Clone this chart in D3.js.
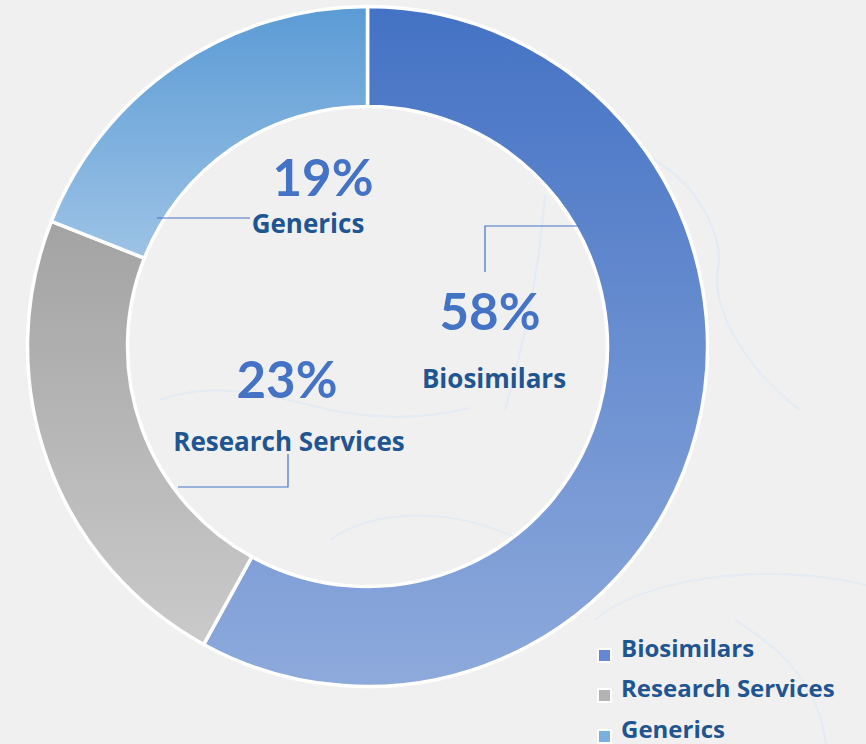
<!DOCTYPE html>
<html>
<head>
<meta charset="utf-8">
<script src="https://cdn.jsdelivr.net/npm/d3@7"></script>
<style>
html,body{margin:0;padding:0;background:#f0f0f0;}
svg{display:block;}
</style>
</head>
<body>
<svg id="chart" width="866" height="744"></svg>
<script>
const categories = ["Biosimilars", "Research Services", "Generics"];
const values = [58, 23, 19];
const percentLabels = ["58%", "23%", "19%"];
const gradTop = ["#4472c4", "#a3a3a3", "#5b9bd5"];
const gradBottom = ["#8eaadc", "#cacaca", "#9dc3e6"];
const legendColors = ["#6688d4", "#b3b3b3", "#7bafe0"];

const W = 866, H = 744;
const cx = 367.5, cy = 346.5, rOuter = 340, rInner = 240;
const svg = d3.select("#chart");

// background
svg.append("rect").attr("width", W).attr("height", H).attr("fill", "#f0f0f0");
const deco = svg.append("g").attr("fill", "none").attr("stroke", "#e4ebf3").attr("stroke-width", 2);
deco.append("path").attr("d", "M640,152 C700,180 725,240 718,270 C712,300 735,360 800,410");
deco.append("path").attr("d", "M545,195 C540,260 528,330 505,410");
deco.append("path").attr("d", "M160,400 C210,380 270,395 330,410 C370,418 420,420 470,408");
deco.append("path").attr("d", "M595,620 C640,580 760,560 866,585");
deco.append("path").attr("d", "M735,620 C800,660 820,700 826,744");
deco.append("path").attr("d", "M330,540 C380,505 460,510 520,540");

const defs = svg.append("defs");
categories.forEach((c, i) => {
  const g = defs.append("linearGradient").attr("id", "g" + i)
    .attr("x1", 0).attr("y1", 0).attr("x2", 0).attr("y2", 1);
  g.append("stop").attr("offset", "0%").attr("stop-color", gradTop[i]);
  g.append("stop").attr("offset", "100%").attr("stop-color", gradBottom[i]);
});

const pie = d3.pie().sort(null).value(d => d)(values);
const arc = d3.arc().innerRadius(rInner).outerRadius(rOuter);
const gPie = svg.append("g").attr("transform", `translate(${cx},${cy})`);
gPie.selectAll("path").data(pie).join("path")
  .attr("d", arc)
  .attr("fill", (d, i) => `url(#g${i})`)
  .attr("stroke", "#ffffff").attr("stroke-width", 3.5).attr("stroke-linejoin", "miter");

// leader lines
const lc = "#4472c4";
const lines = svg.append("g").attr("fill", "none").attr("stroke", lc).attr("stroke-width", 1.2);
lines.append("polyline").attr("points", "485,272 485,226 580,226");
lines.append("polyline").attr("points", "157,218 250,218");
lines.append("polyline").attr("points", "288,454 288,487 178,487");

// labels
const pctPos = [[490, 330], [287, 398], [323, 196]];
const namePos = [[494, 388], [289, 451], [308, 233]];
const pctFont = "Lato, 'Open Sans', sans-serif";
const font = "'Open Sans', sans-serif";
categories.forEach((c, i) => {
  svg.append("text").attr("x", pctPos[i][0]).attr("y", pctPos[i][1])
    .attr("text-anchor", "middle").attr("font-family", pctFont).attr("font-weight", 700)
    .attr("font-size", 51).attr("fill", "#4472c4").text(percentLabels[i]);
  svg.append("text").attr("x", namePos[i][0]).attr("y", namePos[i][1])
    .attr("text-anchor", "middle").attr("font-family", font).attr("font-weight", 700)
    .attr("font-size", 26).attr("fill", "#1f5591").text(c);
});

// legend
const legend = svg.append("g");
const ly = [657, 697, 738];
categories.forEach((c, i) => {
  legend.append("rect").attr("x", 597).attr("y", ly[i] - 9).attr("width", 15).attr("height", 15)
    .attr("fill", "#ffffff");
  legend.append("rect").attr("x", 599).attr("y", ly[i] - 7).attr("width", 11).attr("height", 11)
    .attr("fill", legendColors[i]);
  legend.append("text").attr("x", 621).attr("y", ly[i])
    .attr("font-family", font).attr("font-weight", 700).attr("font-size", 24)
    .attr("fill", "#1f5591").text(c);
});
</script>
</body>
</html>
